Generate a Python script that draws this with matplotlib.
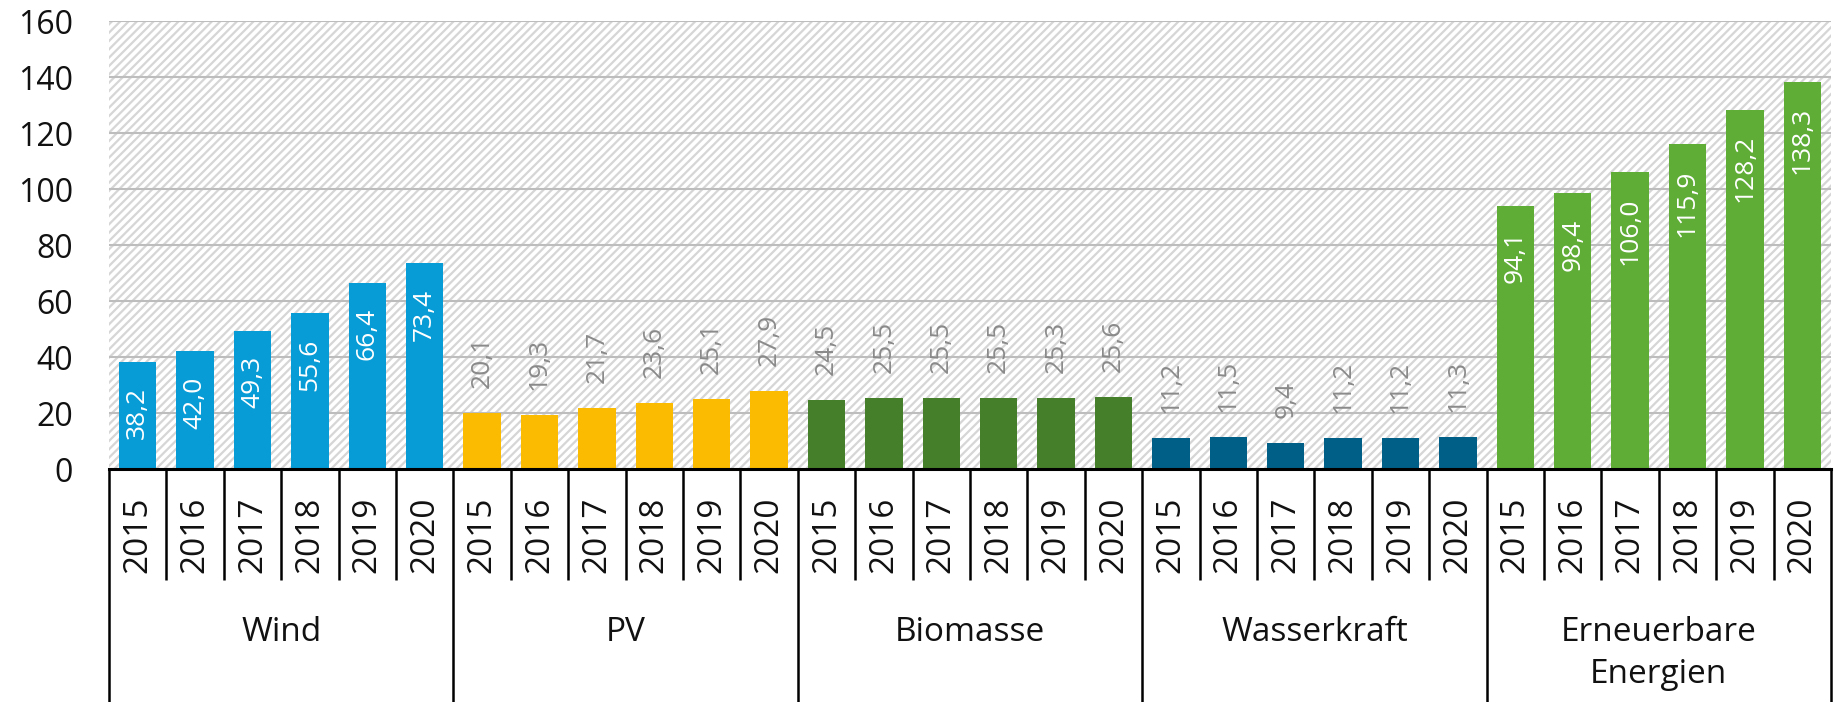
"""
Renewable energy by source, 2015-2020, grouped bars with a table-style x axis.
"""

import matplotlib.pyplot as plt
import matplotlib.transforms as mtransforms
from matplotlib.patches import Rectangle

plt.rcParams["font.family"] = ["Open Sans", "DejaVu Sans"]
plt.rcParams["hatch.linewidth"] = 1.6

years = ["2015", "2016", "2017", "2018", "2019", "2020"]
groups = ["Wind", "PV", "Biomasse", "Wasserkraft", "Erneuerbare\nEnergien"]
wind = [38.2, 42.0, 49.3, 55.6, 66.4, 73.4]
pv = [20.1, 19.3, 21.7, 23.6, 25.1, 27.9]
biomasse = [24.5, 25.5, 25.5, 25.5, 25.3, 25.6]
wasserkraft = [11.2, 11.5, 9.4, 11.2, 11.2, 11.3]
erneuerbare = [94.1, 98.4, 106.0, 115.9, 128.2, 138.3]

series = [wind, pv, biomasse, wasserkraft, erneuerbare]
colors = ["#079cd6", "#fabb00", "#467f2a", "#005f86", "#5fad37"]
label_inside = [True, False, False, False, True]

W, H = 1835, 702
fig = plt.figure(figsize=(W / 100, H / 100), dpi=100)
ax = fig.add_axes([109 / W, 1 - 469 / H, (1831 - 109) / W, (469 - 21) / H])

# hatched background
ax.add_patch(Rectangle((0, 0), 1, 1, transform=ax.transAxes, facecolor="white",
                       edgecolor="#d6d6d6", hatch="////", lw=0, zorder=0))
ax.set_axisbelow(True)
ax.yaxis.grid(True, color="#bdbdbd", lw=1.5, zorder=0.5)

n = len(years)
for g, vals in enumerate(series):
    xs = [g * n + i for i in range(n)]
    ax.bar(xs, vals, width=0.65, color=colors[g], zorder=2)
    for x, v in zip(xs, vals):
        txt = f"{v:.1f}".replace(".", ",")
        if label_inside[g]:
            ax.annotate(txt, (x, v), xytext=(0, -18), textcoords="offset points",
                        rotation=90, ha="center", va="top", color="white",
                        fontsize=19, zorder=3)
        else:
            ax.annotate(txt, (x, v), xytext=(0, 18), textcoords="offset points",
                        rotation=90, ha="center", va="bottom", color="#8a8a8a",
                        fontsize=19, zorder=3)

ax.set_xlim(-0.5, len(series) * n - 0.5)
ax.set_ylim(0, 160)
ax.set_yticks(range(0, 161, 20))
ax.set_xticks(range(len(series) * n))
ax.set_xticklabels(years * len(series), rotation=90, fontsize=24, color="#111111")
ax.tick_params(axis="x", length=0, pad=20)
ax.tick_params(axis="y", length=0, pad=26, labelsize=23, labelcolor="#111111")

for s in ["left", "right", "top"]:
    ax.spines[s].set_visible(False)
ax.spines["bottom"].set_color("black")
ax.spines["bottom"].set_linewidth(2.2)

# table lines under the axis
trans = mtransforms.blended_transform_factory(ax.transData, ax.transAxes)
cell_bottom = (469 - 580) / (469 - 21)
fig_bottom = (469 - 710) / (469 - 21)
for k in range(len(series) * n + 1):
    y_end = fig_bottom if k % n == 0 else cell_bottom
    ax.plot([k - 0.5, k - 0.5], [0, y_end], transform=trans, color="black",
            lw=1.8, clip_on=False, solid_capstyle="butt")

label_top = (469 - 616) / (469 - 21)
for g, name in enumerate(groups):
    ax.text(g * n + (n - 1) / 2, label_top, name, transform=trans,
            ha="center", va="top", fontsize=24, color="#111111", linespacing=1.35)

fig.savefig("out.png", dpi=100)
